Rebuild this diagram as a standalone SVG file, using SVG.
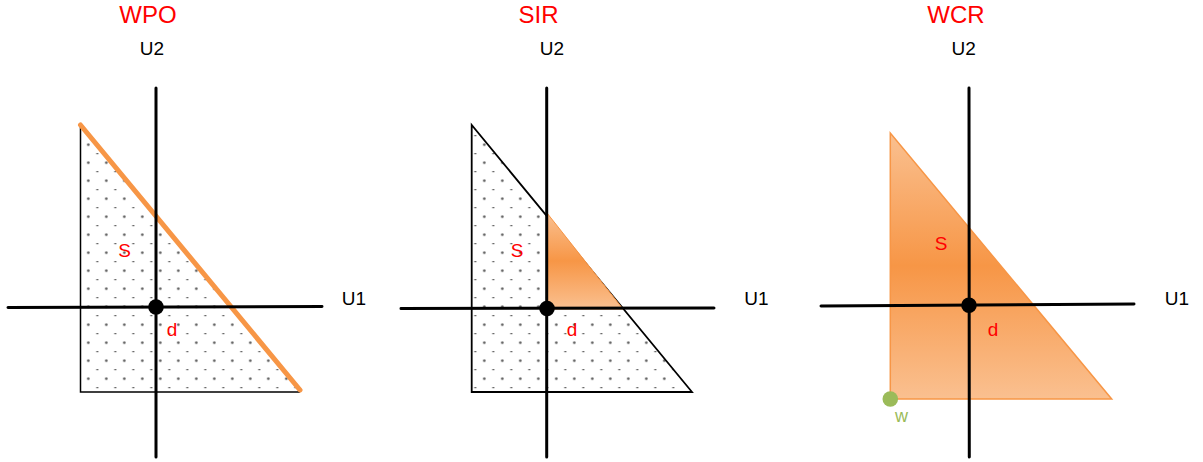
<svg xmlns="http://www.w3.org/2000/svg" width="1203" height="462" viewBox="0 0 1203 462">
<style>
.title{font-family:"Liberation Sans",Arial,sans-serif;font-size:24px;fill:#FF0000;text-anchor:middle}
.ax{font-family:"Liberation Sans",Arial,sans-serif;font-size:19px;fill:#000;text-anchor:middle}
.lbl{font-family:"Liberation Sans",Arial,sans-serif;font-size:19px;fill:#FF0000;text-anchor:middle}
.axis{stroke:#000;stroke-width:3;stroke-linecap:round;fill:none}
.origin{fill:#000}
</style>
<defs>
<pattern id="dots1" patternUnits="userSpaceOnUse" x="83.8" y="212.2" width="18" height="18">
<circle cx="4.5" cy="4.5" r="1.3" fill="#555"/>
<rect x="12.5" y="13" width="2" height="1" fill="#333"/>
</pattern>
<pattern id="dots2" patternUnits="userSpaceOnUse" x="479.8" y="212.2" width="18" height="18">
<circle cx="4.5" cy="4.5" r="1.3" fill="#555"/>
<rect x="12.5" y="13" width="2" height="1" fill="#333"/>
</pattern>
<linearGradient id="og" x1="0" y1="0" x2="0" y2="1">
<stop offset="0" stop-color="#FAC090"/>
<stop offset="0.5" stop-color="#F79646"/>
<stop offset="1" stop-color="#FAC090"/>
</linearGradient>
</defs>

<g id="panel-wpo">
<text class="title" x="148" y="23">WPO</text>
<text class="ax" x="152" y="55">U2</text>
<text class="ax" x="354" y="305">U1</text>
<g id="wpo-region">
<polygon points="80.5,125 80.5,392 300,392" fill="url(#dots1)" stroke="none"/>
<polyline points="80.5,125 80.5,392 300,392" fill="none" stroke="#000" stroke-width="1.5"/>
<line x1="80.5" y1="125" x2="300" y2="390" stroke="#F79646" stroke-width="5" stroke-linecap="round"/>
</g>
</g>

<g id="panel-sir">
<text class="title" x="538.5" y="23">SIR</text>
<text class="ax" x="552" y="55">U2</text>
<text class="ax" x="756.5" y="305">U1</text>
<g id="sir-region">
<polygon points="471.7,125 471.7,392 692,392" fill="url(#dots2)" stroke="#000" stroke-width="1.8" stroke-linejoin="miter"/>
<polygon points="547,213 547,309 623,309" fill="url(#og)" stroke="#F79646" stroke-width="1"/>
</g>
</g>

<g id="panel-wcr">
<text class="title" x="956" y="23">WCR</text>
<text class="ax" x="963.7" y="55">U2</text>
<text class="ax" x="1177" y="305">U1</text>
<g id="wcr-region">
<polygon points="890.3,133 890.3,399 1111.7,399" fill="url(#og)" stroke="#F79646" stroke-width="1.5"/>
</g>
</g>

<g id="connectors">
<line class="axis" x1="156" y1="88" x2="156" y2="457"/>
<line class="axis" x1="8" y1="307.5" x2="322" y2="306.5"/>
<line class="axis" x1="546.7" y1="88" x2="546.7" y2="457"/>
<line class="axis" x1="401" y1="308.5" x2="714" y2="308"/>
<line class="axis" x1="969" y1="88" x2="969.3" y2="457"/>
<line class="axis" x1="821" y1="306" x2="1134" y2="304"/>
</g>

<g id="origins">
<circle class="origin" cx="156" cy="307" r="7.8"/>
<circle class="origin" cx="547" cy="308.5" r="7.8"/>
<circle class="origin" cx="969" cy="305.3" r="7.8"/>
</g>

<g id="labels">
<text class="lbl" x="124.5" y="257">S</text>
<text class="lbl" x="172" y="336">d</text>
<text class="lbl" x="517" y="257">S</text>
<text class="lbl" x="572" y="336">d</text>
<text class="lbl" x="941" y="250">S</text>
<text class="lbl" x="993" y="336">d</text>
</g>

<g id="w-point">
<circle cx="890.3" cy="399" r="7.8" fill="#9BBB59"/>
<text x="901.5" y="421.7" font-family="'Liberation Sans',Arial,sans-serif" font-size="18" fill="#9BBB59" text-anchor="middle">w</text>
</g>
</svg>
